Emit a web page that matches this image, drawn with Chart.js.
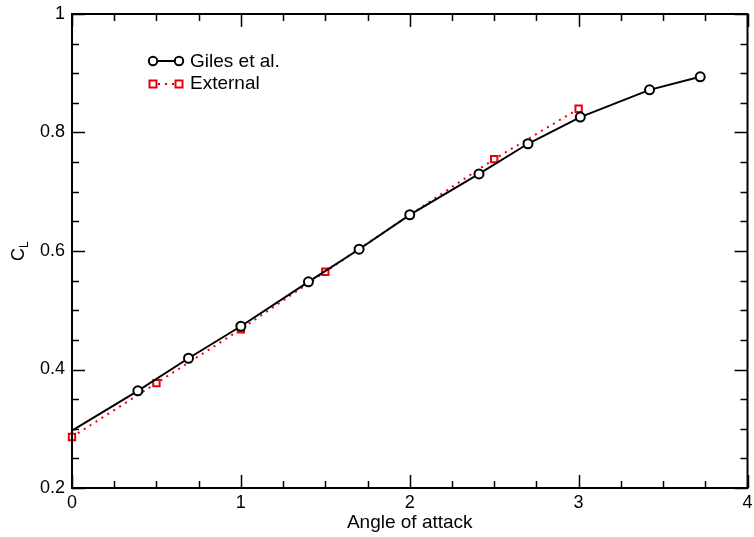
<!DOCTYPE html>
<html>
<head>
<meta charset="utf-8">
<script src="https://cdn.jsdelivr.net/npm/chart.js@4/dist/chart.umd.min.js"></script>
<style>
html,body{margin:0;padding:0;background:#fff;}
#wrap{width:754px;height:537px;}
</style>
</head>
<body>
<div id="wrap"><canvas id="c" width="754" height="537"></canvas></div>
<script>
// Data
const gilesX = [0, 0.39, 0.69, 1.0, 1.40, 1.70, 2.0, 2.41, 2.70, 3.01, 3.42, 3.72];
const gilesY = [0.297, 0.364, 0.419, 0.473, 0.548, 0.603, 0.661, 0.730, 0.781, 0.826, 0.872, 0.894];
const extX = [0, 0.5, 1, 1.5, 2, 2.5, 3];
const extY = [0.286, 0.377, 0.468, 0.565, 0.661, 0.755, 0.840];
const seriesNames = ['Giles et al.', 'External'];
const xTitle = 'Angle of attack';
const yTitleMain = 'C';
const yTitleSub = 'L';

const RED = '#e8000b';
const FONT = '"Liberation Sans", Arial, Helvetica, sans-serif';

const gilesRadius = gilesX.map((v, i) => i === 0 ? 0 : 4.5);

const frameTicks = {
  id: 'frameTicks',
  afterDraw(chart) {
    const ctx = chart.ctx, a = chart.chartArea;
    const xs = chart.scales.x, ys = chart.scales.y;
    ctx.save();
    ctx.strokeStyle = '#000';
    ctx.lineWidth = 2;
    ctx.strokeRect(a.left, a.top, a.right - a.left, a.bottom - a.top);
    ctx.lineWidth = 1.5;
    ctx.beginPath();
    for (let i = 0; i <= 16; i++) {
      const v = i * 0.25;
      const len = (i % 4 === 0) ? 13 : 7;
      const px = Math.round(xs.getPixelForValue(v)) + 0.5;
      ctx.moveTo(px, a.bottom); ctx.lineTo(px, a.bottom - len);
      ctx.moveTo(px, a.top); ctx.lineTo(px, a.top + len);
    }
    for (let i = 0; i <= 16; i++) {
      const v = 0.2 + i * 0.05;
      const len = (i % 4 === 0) ? 13 : 7;
      const py = Math.round(ys.getPixelForValue(v)) + 0.5;
      ctx.moveTo(a.left, py); ctx.lineTo(a.left + len, py);
      ctx.moveTo(a.right, py); ctx.lineTo(a.right - len, py);
    }
    ctx.stroke();

    // Y title with subscript
    ctx.fillStyle = '#000';
    ctx.translate(24, 261);
    ctx.rotate(-Math.PI / 2);
    ctx.font = '18px ' + FONT;
    ctx.textBaseline = 'alphabetic';
    ctx.textAlign = 'left';
    ctx.fillText(yTitleMain, 0, 0);
    const w = ctx.measureText(yTitleMain).width;
    ctx.font = '12px ' + FONT;
    ctx.fillText(yTitleSub, w, 4);
    ctx.restore();

    // Legend
    ctx.save();
    ctx.font = '19px ' + FONT;
    ctx.textBaseline = 'middle';
    ctx.fillStyle = '#000';
    ctx.strokeStyle = '#000';
    ctx.lineWidth = 2;
    ctx.beginPath(); ctx.moveTo(153, 61); ctx.lineTo(179, 61); ctx.stroke();
    [153, 179].forEach(x => {
      ctx.beginPath(); ctx.arc(x, 61, 4.2, 0, Math.PI * 2);
      ctx.fillStyle = '#fff'; ctx.fill(); ctx.stroke();
    });
    ctx.fillStyle = '#000';
    ctx.fillText(seriesNames[0], 190, 62);
    ctx.strokeStyle = RED;
    ctx.setLineDash([2, 5]);
    ctx.beginPath(); ctx.moveTo(158, 84); ctx.lineTo(175, 84); ctx.stroke();
    ctx.setLineDash([]);
    [153, 179].forEach(x => {
      ctx.fillStyle = '#fff';
      ctx.fillRect(x - 3.5, 84 - 3.5, 7, 7);
      ctx.strokeRect(x - 3.5, 84 - 3.5, 7, 7);
    });
    ctx.fillStyle = '#000';
    ctx.fillText(seriesNames[1], 190, 84);
    ctx.restore();
  }
};

new Chart(document.getElementById('c'), {
  type: 'scatter',
  data: {
    datasets: [
      {
        label: seriesNames[1],
        data: extX.map((x, i) => ({x, y: extY[i]})),
        showLine: true,
        borderColor: RED,
        borderWidth: 2,
        borderDash: [2, 5],
        pointStyle: 'rect',
        pointRadius: 4.5,
        pointBorderWidth: 2,
        pointBorderColor: RED,
        pointBackgroundColor: '#fff',
        clip: false,
        order: 2
      },
      {
        label: seriesNames[0],
        data: gilesX.map((x, i) => ({x, y: gilesY[i]})),
        showLine: true,
        borderColor: '#000',
        borderWidth: 2,
        pointStyle: 'circle',
        pointRadius: gilesRadius,
        pointBorderWidth: 2,
        pointBorderColor: '#000',
        pointBackgroundColor: '#fff',
        clip: false,
        order: 1
      }
    ]
  },
  options: {
    responsive: false,
    animation: false,
    events: [],
    layout: { padding: { left: 0, right: 3, top: 14, bottom: 0 } },
    plugins: { legend: { display: false }, tooltip: { enabled: false } },
    scales: {
      x: {
        type: 'linear', min: 0, max: 4,
        grid: { display: false, drawTicks: false },
        border: { display: false },
        ticks: { stepSize: 1, color: '#000', padding: 4, maxRotation: 0, font: { family: FONT, size: 18 } },
        title: { display: true, text: xTitle, color: '#000', font: { family: FONT, size: 19 }, padding: { top: 0, bottom: 3 } },
        afterFit(s) { s.height = 49; s.paddingLeft = 0; s.paddingRight = 0; }
      },
      y: {
        type: 'linear', min: 0.2, max: 1,
        grid: { display: false, drawTicks: false },
        border: { display: false },
        ticks: { stepSize: 0.2, color: '#000', padding: 7, font: { family: FONT, size: 18 },
          callback: v => String(Number(v.toFixed(2))) },
        afterFit(s) { s.width = 72; s.paddingTop = 0; s.paddingBottom = 0; }
      }
    }
  },
  plugins: [frameTicks]
});
</script>
</body>
</html>
